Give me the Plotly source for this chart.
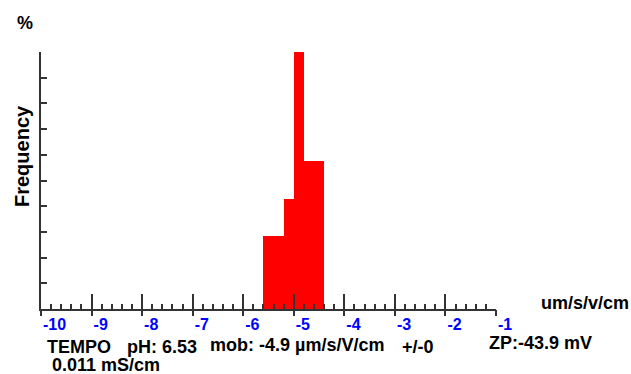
import plotly.graph_objects as go

# ---- data ----
bin_left = [-5.6, -5.2, -5.0, -4.8]
bin_right = [-5.2, -5.0, -4.8, -4.4]
freq = [28.5, 42.8, 100.0, 57.5]

x_ticks = [-10, -9, -8, -7, -6, -5, -4, -3, -2, -1]
x_tick_labels = ["-10", "-9", "-8", "-7", "-6", "-5", "-4", "-3", "-2", "-1"]
y_ticks = [0, 10, 20, 30, 40, 50, 60, 70, 80, 90, 100]

info_texts = ["TEMPO", "pH: 6.53", "mob: -4.9 µm/s/V/cm", "+/-0", "ZP:-43.9 mV"]
cond_text = "0.011 mS/cm"

# ---- layout geometry ----
W, H = 631, 374
ML, MR, MT, MB = 41, 135, 52, 65
PW, PH = W - ML - MR, H - MT - MB


def px(xp):
    return (xp - ML) / PW


def py(yp):
    return (H - MB - yp) / PH


centers = [(a + b) / 2 for a, b in zip(bin_left, bin_right)]
widths = [b - a for a, b in zip(bin_left, bin_right)]

fig = go.Figure()
fig.add_trace(go.Bar(
    x=centers, y=freq, width=widths,
    marker=dict(color="#FF0000", line=dict(width=0)),
    hoverinfo="skip",
))
# invisible trace for the secondary (below-axis) tick axis
fig.add_trace(go.Scatter(x=[x_ticks[0]], y=[0], xaxis="x2", mode="markers",
                         marker=dict(opacity=0), hoverinfo="skip", showlegend=False))

axis_color = "#333333"
bold = dict(family="Liberation Sans, Arial, sans-serif", weight="bold")

fig.update_layout(
    width=W, height=H,
    margin=dict(l=ML, r=MR, t=MT, b=MB),
    paper_bgcolor="white", plot_bgcolor="white",
    showlegend=False,
    bargap=0,
    xaxis=dict(
        range=[-10, -1], showgrid=False, zeroline=False,
        showline=True, linecolor=axis_color, linewidth=2,
        tickvals=x_ticks, ticktext=x_tick_labels,
        ticks="inside", ticklen=15, tickwidth=2, tickcolor=axis_color,
        ticklabelposition="outside right",
        tickfont=dict(size=16, color="#0000FF", **bold),
        minor=dict(tick0=-10, dtick=0.2, ticks="inside", ticklen=5,
                   tickwidth=1.5, tickcolor=axis_color, showgrid=False),
        fixedrange=True,
    ),
    xaxis2=dict(
        range=[-10, -1], overlaying="x", anchor="y", side="bottom",
        showgrid=False, zeroline=False, showline=False,
        tickvals=x_ticks, ticks="outside", ticklen=6, tickwidth=2,
        tickcolor=axis_color, showticklabels=False,
    ),
    yaxis=dict(
        range=[0, 100], showgrid=False, zeroline=False,
        showline=True, linecolor=axis_color, linewidth=2,
        tickvals=y_ticks, ticks="inside", ticklen=6, tickwidth=1.5,
        tickcolor=axis_color, showticklabels=False,
        fixedrange=True,
    ),
)

ann_font = dict(size=18, color="black", **bold)
annotations = [
    dict(text="%", x=px(25), y=py(23), xanchor="center", yanchor="middle"),
    dict(text="Frequency", x=px(22), y=py(156), textangle=-90,
         xanchor="center", yanchor="middle", font=dict(size=20, color="black", **bold)),
    dict(text="um/s/v/cm", x=px(539), y=py(303), xanchor="left", yanchor="middle"),
    dict(text=info_texts[0], x=px(45), y=py(347), xanchor="left", yanchor="middle"),
    dict(text=info_texts[1], x=px(125), y=py(347), xanchor="left", yanchor="middle"),
    dict(text=info_texts[2], x=px(208), y=py(345), xanchor="left", yanchor="middle"),
    dict(text=info_texts[3], x=px(400), y=py(347), xanchor="left", yanchor="middle"),
    dict(text=info_texts[4], x=px(487), y=py(343), xanchor="left", yanchor="middle"),
    dict(text=cond_text, x=px(50), y=py(365), xanchor="left", yanchor="middle"),
]
for a in annotations:
    a.setdefault("font", ann_font)
    a.update(xref="paper", yref="paper", showarrow=False)
fig.update_layout(annotations=annotations)

fig.write_html(
    "out.html",
    config={"displayModeBar": False},
    post_script="document.body.style.margin='0';document.body.style.padding='0';"
                "document.body.style.overflow='hidden';",
)
